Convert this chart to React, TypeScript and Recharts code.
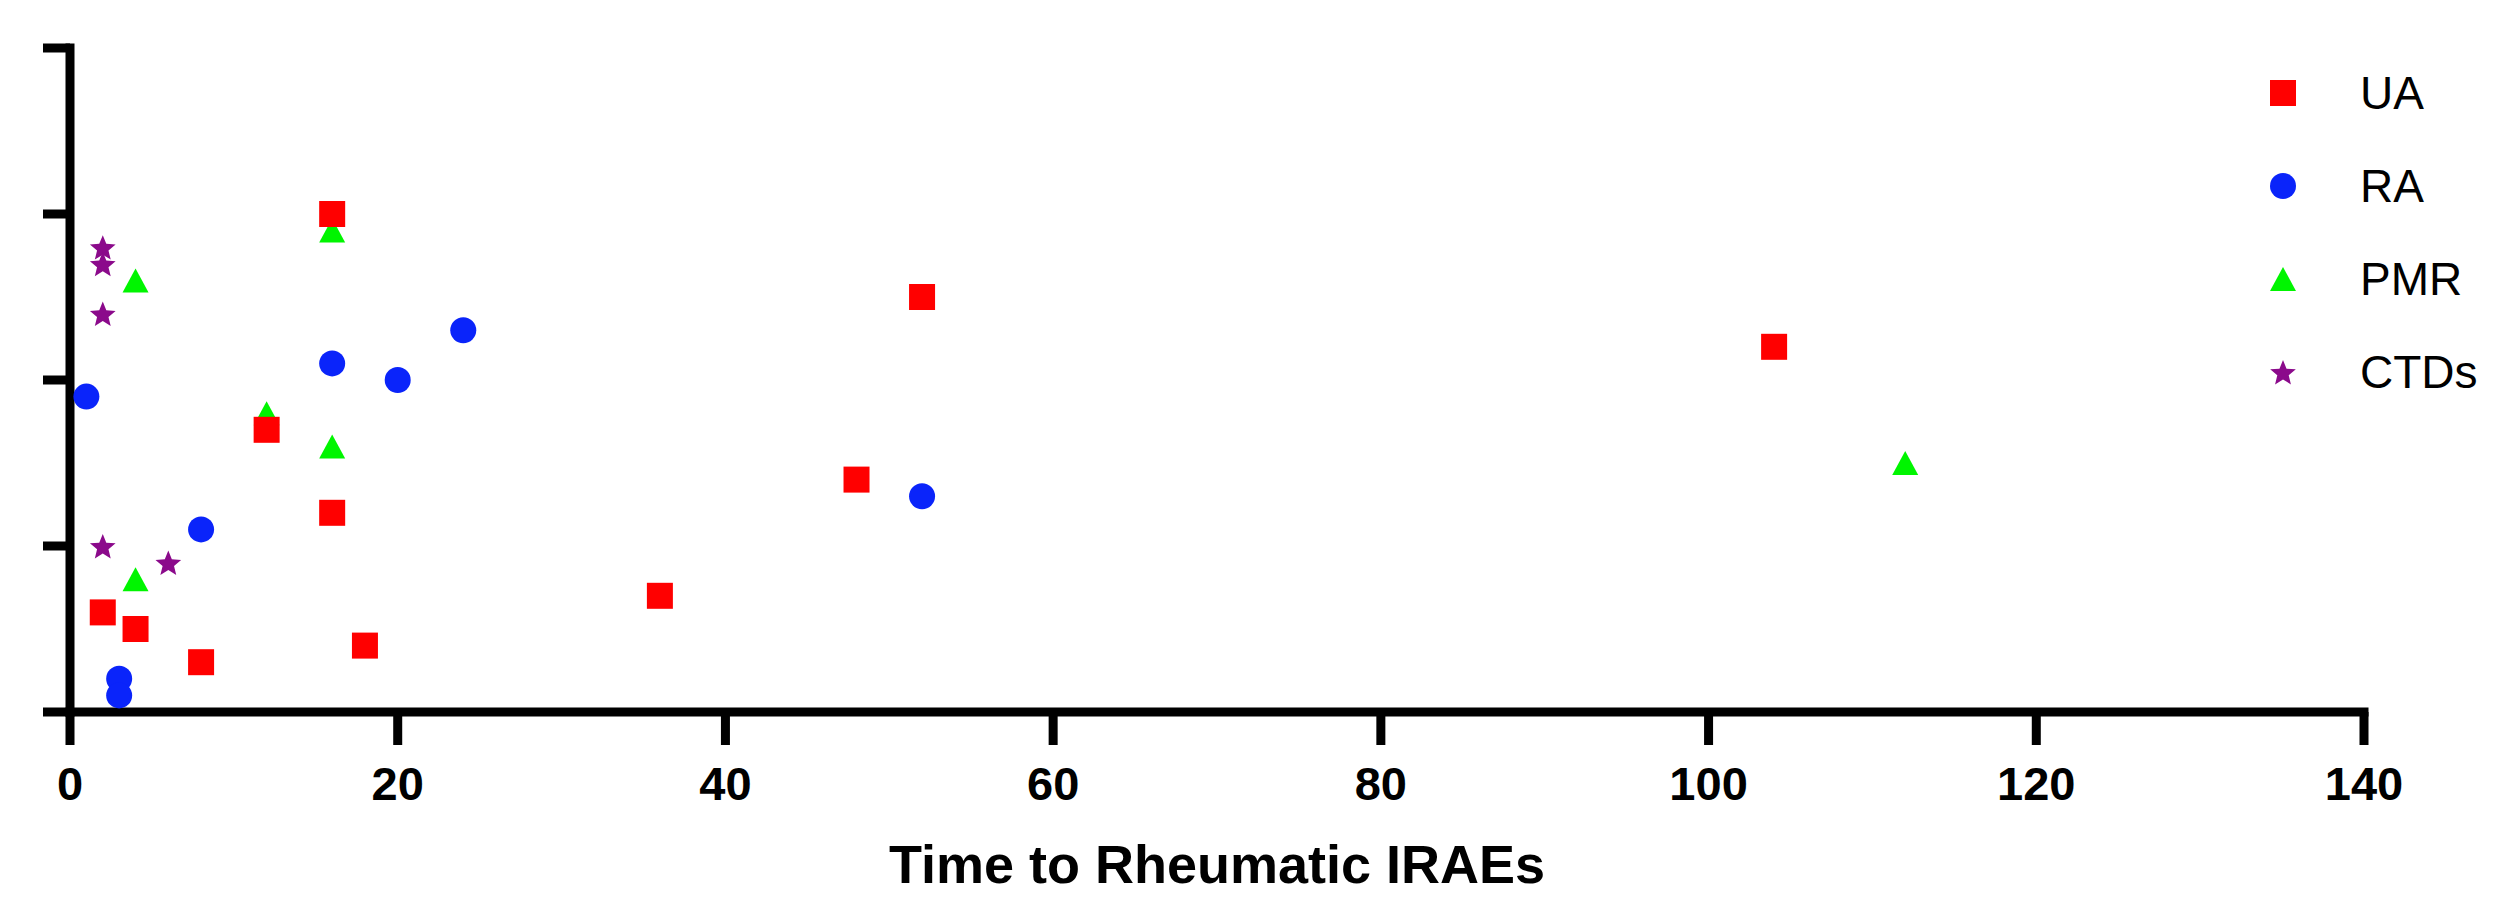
import React from 'react';
import { ScatterChart, Scatter, XAxis, YAxis, Legend } from 'recharts';

// ---- data (x = time to rheumatic irAEs, y = unlabeled vertical position) ----
const UA_X = [2, 4, 8, 12, 16, 16, 18, 36, 48, 52, 104];
const UA_Y = [6, 5, 3, 17, 30, 12, 4, 7, 14, 25, 22];
const RA_X = [1, 3, 3, 8, 16, 20, 24, 52];
const RA_Y = [19, 2, 1, 11, 21, 20, 23, 13];
const PMR_X = [4, 4, 12, 16, 16, 112];
const PMR_Y = [26, 8, 18, 29, 16, 15];
const CTD_X = [2, 2, 2, 2, 6];
const CTD_Y = [28, 27, 24, 10, 9];

const X_TICKS = [0, 20, 40, 60, 80, 100, 120, 140];
const Y_TICKS = [0, 10, 20, 30, 40];
const X_TITLE = 'Time to Rheumatic IRAEs';

const SERIES_NAMES = ['UA', 'RA', 'PMR', 'CTDs'];
const SERIES_COLORS = ['#FF0000', '#0A24FA', '#00F500', '#8B0A8B'];
const SERIES_SHAPES = ['square', 'circle', 'triangle', 'star'];

const toPoints = (xs: number[], ys: number[]) => xs.map((x, i) => ({ x, y: ys[i] }));

const FONT = '"Liberation Sans", Arial, Helvetica, sans-serif';
const AXIS_W = 9;
const X_TICK_SIZE = 33;
const X_TICK_MARGIN = 22;
const Y_TICK_SIZE = 27;

function Marker({ kind, cx, cy, color }: { kind: string; cx: number; cy: number; color: string }) {
  if (kind === 'square') {
    const s = 26;
    return <rect x={cx - s / 2} y={cy - s / 2} width={s} height={s} fill={color} />;
  }
  if (kind === 'circle') {
    return <circle cx={cx} cy={cy} r={13} fill={color} />;
  }
  if (kind === 'triangle') {
    const w = 26;
    const h = 24;
    const d = `M${cx},${cy - h / 2} L${cx + w / 2},${cy + h / 2} L${cx - w / 2},${cy + h / 2} Z`;
    return <path d={d} fill={color} />;
  }
  // star
  const R = 13.5;
  const r = 6;
  let d = '';
  for (let i = 0; i < 10; i++) {
    const rad = i % 2 === 0 ? R : r;
    const a = -Math.PI / 2 + (i * Math.PI) / 5;
    d += `${i === 0 ? 'M' : 'L'}${cx + rad * Math.cos(a)},${cy + rad * Math.sin(a) + 1.5}`;
  }
  return <path d={d + 'Z'} fill={color} />;
}

const shapeFor = (idx: number) => (p: any) => (
  <Marker kind={SERIES_SHAPES[idx]} cx={p.cx} cy={p.cy} color={SERIES_COLORS[idx]} />
);

const XTick = (p: any) => {
  const px = Number(p.x);
  const py = Number(p.y);
  return (
    <g>
      <rect
        x={px - AXIS_W / 2}
        y={py - X_TICK_MARGIN - X_TICK_SIZE}
        width={AXIS_W}
        height={X_TICK_SIZE}
        fill="#000"
        stroke="none"
      />
      <text
        x={px}
        y={py}
        dy="0.71em"
        textAnchor="middle"
        fontSize={47}
        fontWeight="bold"
        fill="#000"
        stroke="none"
        fontFamily={FONT}
      >
        {p.payload.value}
      </text>
    </g>
  );
};

const YTick = (p: any) => (
  <line x1={p.x} x2={p.x + Y_TICK_SIZE} y1={p.y} y2={p.y} stroke="#000" strokeWidth={AXIS_W} />
);

const renderLegend = () => (
  <div style={{ display: 'flex', flexDirection: 'column' }}>
    {SERIES_NAMES.map((name, i) => (
      <div key={name} style={{ height: 93, display: 'flex', alignItems: 'center' }}>
        <svg width={30} height={30} style={{ display: 'block' }}>
          <Marker kind={SERIES_SHAPES[i]} cx={15} cy={15} color={SERIES_COLORS[i]} />
        </svg>
        <span style={{ marginLeft: 62, fontSize: 46, fontFamily: FONT, color: '#000', lineHeight: 1 }}>{name}</span>
      </div>
    ))}
  </div>
);

export default function App() {
  return (
    <div style={{ width: 2494, height: 890, fontFamily: FONT }}>
      <ScatterChart width={2494} height={890} margin={{ top: 40, right: 138, bottom: 0, left: 0 }}>
        <XAxis
          type="number"
          dataKey="x"
          domain={[0, 140]}
          ticks={X_TICKS}
          interval={0}
          height={186}
          stroke="#000"
          axisLine={{ stroke: '#000', strokeWidth: AXIS_W, strokeLinecap: 'square' }}
          tickLine={false}
          tickSize={X_TICK_SIZE}
          tickMargin={X_TICK_MARGIN}
          tick={XTick}
          label={{
            value: X_TITLE,
            position: 'insideBottom',
            offset: 15,
            fontSize: 54,
            fontWeight: 'bold',
            fill: '#000',
            stroke: 'none',
            fontFamily: FONT,
          }}
        />
        <YAxis
          type="number"
          dataKey="y"
          domain={[0, 40]}
          ticks={Y_TICKS}
          interval={0}
          width={62}
          stroke="#000"
          axisLine={{ stroke: '#000', strokeWidth: AXIS_W, strokeLinecap: 'square' }}
          tickLine={false}
          tickSize={Y_TICK_SIZE}
          tickMargin={0}
          tick={YTick}
        />
        <Legend
          layout="vertical"
          align="center"
          verticalAlign="middle"
          content={renderLegend}
          wrapperStyle={{ position: 'absolute', left: 2260, top: 38, width: 234 }}
        />
        <Scatter name="CTDs" data={toPoints(CTD_X, CTD_Y)} fill={SERIES_COLORS[3]} shape={shapeFor(3)} isAnimationActive={false} />
        <Scatter name="PMR" data={toPoints(PMR_X, PMR_Y)} fill={SERIES_COLORS[2]} shape={shapeFor(2)} isAnimationActive={false} />
        <Scatter name="RA" data={toPoints(RA_X, RA_Y)} fill={SERIES_COLORS[1]} shape={shapeFor(1)} isAnimationActive={false} />
        <Scatter name="UA" data={toPoints(UA_X, UA_Y)} fill={SERIES_COLORS[0]} shape={shapeFor(0)} isAnimationActive={false} />
      </ScatterChart>
    </div>
  );
}
